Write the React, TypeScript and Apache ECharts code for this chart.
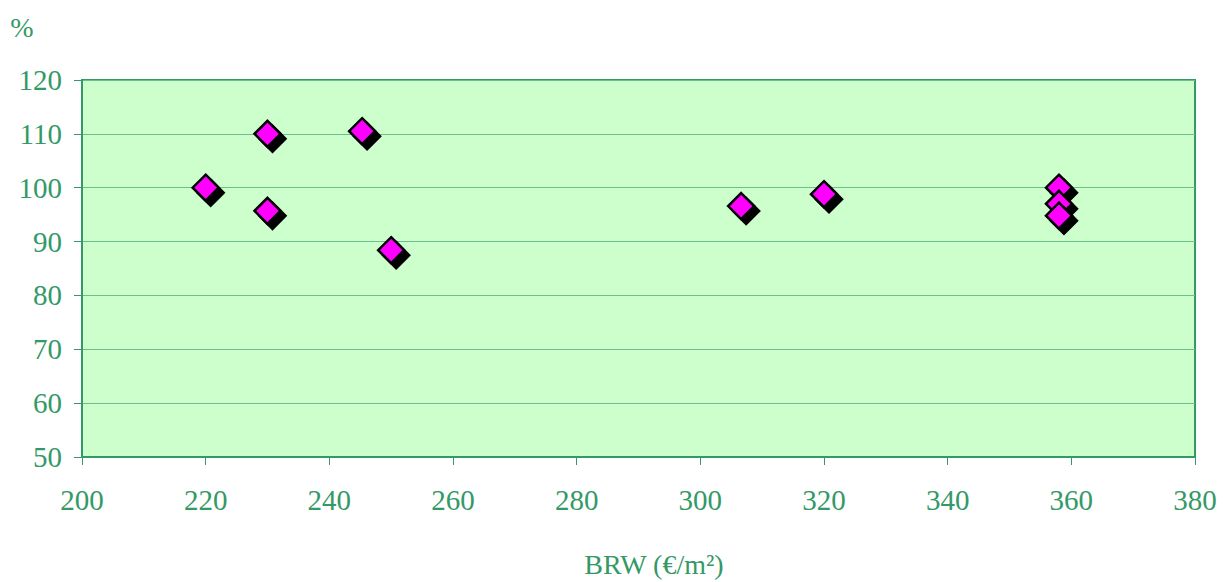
import React, { useEffect, useRef } from "react";
import * as echarts from "echarts";

const brw = [220, 230, 230, 245.3, 250, 306.6, 320, 358, 358, 358];
const pct = [100, 110, 95.7, 110.5, 88.4, 96.6, 98.8, 100, 97, 94.8];
const xTicks = { min: 200, max: 380, interval: 20 };
const yTicks = { min: 50, max: 120, interval: 10 };
const xName = "BRW (€/m²)";
const yName = "%";

const GREEN = "#339966";
const GRID_LINE = "#6cc08f";
const FONT = "'Liberation Serif', 'Times New Roman', serif";

export default function App() {
  const ref = useRef<HTMLDivElement>(null);
  useEffect(() => {
    document.body.style.margin = "0";
    const chart = echarts.init(ref.current!, null, { renderer: "svg" });
    chart.setOption({
      animation: false,
      grid: {
        left: 82,
        top: 80,
        right: 31,
        bottom: 125,
        show: true,
        backgroundColor: "#ccffcc",
        borderColor: GREEN,
        borderWidth: 2,
      },
      xAxis: {
        type: "value",
        min: xTicks.min,
        max: xTicks.max,
        interval: xTicks.interval,
        axisLine: { show: true, onZero: false, lineStyle: { color: GREEN, width: 2 } },
        axisTick: { show: true, length: 8, lineStyle: { color: GREEN, width: 1 } },
        splitLine: { show: false },
        axisLabel: { color: GREEN, fontFamily: FONT, fontSize: 29, margin: 28 },
      },
      yAxis: {
        type: "value",
        min: yTicks.min,
        max: yTicks.max,
        interval: yTicks.interval,
        axisLine: { show: true, onZero: false, lineStyle: { color: GREEN, width: 2 } },
        axisTick: { show: true, length: 8, lineStyle: { color: GREEN, width: 1 } },
        splitLine: { show: true, lineStyle: { color: GRID_LINE, width: 1 } },
        axisLabel: { color: GREEN, fontFamily: FONT, fontSize: 29, margin: 20 },
      },
      graphic: [
        {
          type: "text",
          x: 22,
          y: 27,
          style: {
            text: yName,
            fill: GREEN,
            font: `28px ${FONT}`,
            align: "center",
            verticalAlign: "middle",
          },
        },
        {
          type: "text",
          x: 654,
          y: 564,
          style: {
            text: xName,
            fill: GREEN,
            font: `28px ${FONT}`,
            align: "center",
            verticalAlign: "middle",
          },
        },
      ],
      series: [
        {
          type: "scatter",
          symbol: "diamond",
          symbolSize: 26,
          data: brw.map((x, i) => [x, pct[i]]),
          itemStyle: {
            color: "#ff00ff",
            borderColor: "#000",
            borderWidth: 2.5,
            shadowColor: "#000",
            shadowBlur: 0,
            shadowOffsetX: 5,
            shadowOffsetY: 5,
            opacity: 1,
          },
        },
      ],
    });
    return () => chart.dispose();
  }, []);
  return <div ref={ref} style={{ width: 1226, height: 582 }} />;
}
